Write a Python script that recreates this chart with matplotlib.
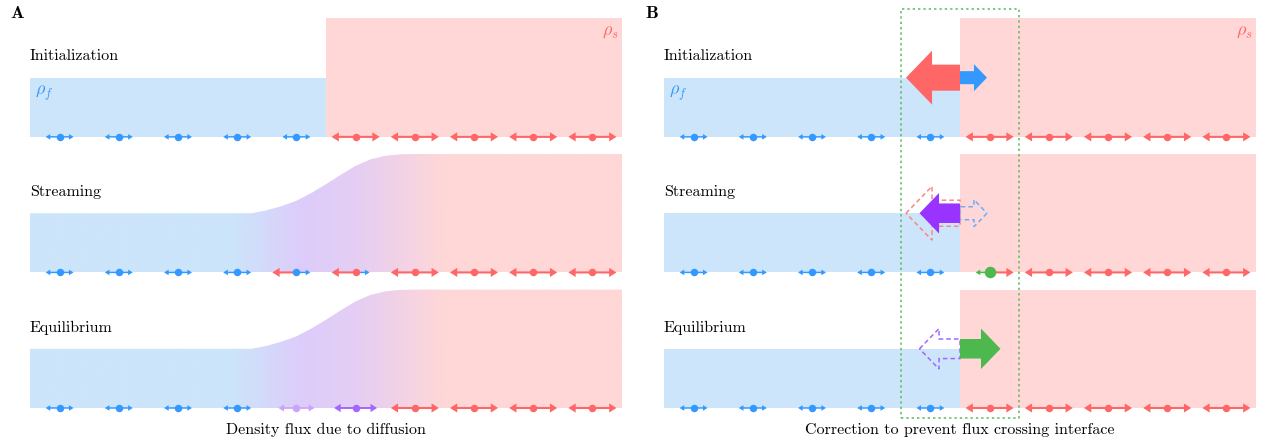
#!/usr/bin/env python3
# -*- coding: utf-8 -*-

import numpy as np
from matplotlib import pyplot as plt
from matplotlib.patches import FancyArrow, Polygon, Rectangle
from matplotlib.colors import LinearSegmentedColormap

plt.rcParams['font.family'] = 'serif'
plt.rcParams['font.serif'] = ['cmr10', 'DejaVu Serif']
plt.rcParams['mathtext.fontset'] = 'cm'
plt.rcParams['axes.formatter.use_mathtext'] = True

# ---- data ----
n_cells = 10
interface = 5
rho_f = 1.0
rho_s = 2.0
row_names = ['Initialization', 'Streaming', 'Equilibrium']

# smoothed density profile after diffusion
x_profile = [0, 3.75, 4.0, 4.25, 4.5, 4.75, 5.0, 5.25, 5.5, 5.75, 6.0, 6.25, 6.5, 10]
rho_profile = [1.0, 1.0, 1.05, 1.12, 1.21, 1.34, 1.49, 1.65, 1.80, 1.91, 1.97, 1.995, 2.0, 2.0]

# population per species (drives node-arrow size)
pop = {'f': 1.0, 's': 2.0, 'm1': 1.4, 'm2': 1.75, 'g': 1.0}

# node states per row: (left arrow, dot, right arrow)
F = ('f', 'f', 'f')
S = ('s', 's', 's')
nodes_A = [
    [F] * 5 + [S] * 5,
    [F] * 4 + [('s', 'f', 'f'), ('s', 's', 'f')] + [S] * 4,
    [F] * 4 + [('m1', 'm1', 'm1'), ('m2', 'm2', 'm2')] + [S] * 4,
]
nodes_B = [
    [F] * 5 + [S] * 5,
    [F] * 5 + [('g', 'g', 's')] + [S] * 4,
    [F] * 5 + [S] * 5,
]

# interface fluxes in panel B: (direction, magnitude, species, filled)
flux_B = [
    [(-1, 2.0, 's', True), (1, 1.0, 'f', True)],
    [(-1, 2.0, 's', False), (1, 1.0, 'f', False), (-1, 1.5, 'p', True)],
    [(-1, 1.5, 'p', False), (1, 1.5, 'g', True)],
]

# ---- style ----
blue_fill = '#CCE5FA'
pink_fill = '#FFD7D7'
colors = {'f': '#3399FF', 's': '#FF6666', 'm1': '#CDA3FA', 'm2': '#A366FF',
          'g': '#4DB84D', 'p': '#9933FF'}
dash_colors = {'s': '#FF8585', 'f': '#66B0FF', 'p': '#A366FF'}
row_base = [4.58, 2.29, 0.0]
grad_cmap = LinearSegmentedColormap.from_list(
    'diff', [(0.0, blue_fill), (0.34, blue_fill), (0.46, '#DDCCFA'),
             (0.55, '#E4CEF4'), (0.70, pink_fill), (1.0, pink_fill)], N=1024)


def node_arrow(ax, x, y, d, sp):
    t = pop[sp] - 1.0
    L = 0.236 + 0.17 * t
    ax.add_patch(FancyArrow(x, y, d * L, 0, width=0.025 + 0.01 * t,
                            head_width=0.095 + 0.06 * t, head_length=0.078 + 0.045 * t,
                            length_includes_head=True, color=colors[sp], lw=0, zorder=4))


def draw_nodes(ax, base, row):
    for i, (left, dot, right) in enumerate(row):
        x = i + 0.5
        node_arrow(ax, x, base, -1, left)
        node_arrow(ax, x, base, 1, right)
        ms = 8.3 if dot == 'g' else 5.4
        ax.plot(x, base, 'o', ms=ms, color=colors[dot], mec='none', zorder=5)


def draw_step(ax, base):
    ax.add_patch(Rectangle((0, base), interface, rho_f, fc=blue_fill, ec='none', zorder=1))
    ax.add_patch(Rectangle((interface, base), n_cells - interface, rho_s,
                           fc=pink_fill, ec='none', zorder=1))


def draw_profile(ax, base):
    verts = [(x, base + r) for x, r in zip(x_profile, rho_profile)]
    verts += [(n_cells, base), (0, base)]
    poly = Polygon(verts, closed=True, fc='none', ec='none')
    ax.add_patch(poly)
    grad = np.linspace(0, 1, 2000)[None, :]
    im = ax.imshow(grad, cmap=grad_cmap, extent=(0, n_cells, base, base + rho_s),
                   aspect='auto', origin='lower', interpolation='bilinear', zorder=1)
    im.set_clip_path(poly)


def big_arrow(ax, y, d, s, sp, filled):
    L = 0.456 * s
    kw = dict(width=0.22 * s, head_width=0.456 * s, head_length=0.22 * s,
              length_includes_head=True, zorder=6)
    if filled:
        arr = FancyArrow(interface, y, d * L, 0, fc=colors[sp], ec='none', lw=0, **kw)
    else:
        arr = FancyArrow(interface, y, d * L, 0, fill=False, ec=dash_colors[sp],
                         lw=1.1, ls=(0, (3, 2)), **kw)
    ax.add_patch(arr)


def setup(ax):
    ax.set_xlim(0, n_cells)
    ax.set_ylim(-0.659, 6.892)
    ax.axis('off')
    for name, base in zip(row_names, row_base):
        ax.text(0, base + 1.29, name, fontsize=11.5, ha='left', va='baseline')
    top = row_base[0]
    ax.text(0.08, top + rho_f - 0.1, r'$\rho_f$', color=colors['f'], fontsize=13,
            ha='left', va='top', zorder=7)
    ax.text(n_cells - 0.05, top + rho_s - 0.1, r'$\rho_s$', color=colors['s'], fontsize=13,
            ha='right', va='top', zorder=7)


def plot_panels():
    fig = plt.figure(figsize=(12.68, 4.47), dpi=100)
    axA = fig.add_axes([30 / 1268, 0, 592 / 1268, 1])
    axB = fig.add_axes([664 / 1268, 0, 592 / 1268, 1])

    # panel A: diffusion across the interface
    for k, base in enumerate(row_base):
        if k == 0:
            draw_step(axA, base)
        else:
            draw_profile(axA, base)
        draw_nodes(axA, base, nodes_A[k])
    setup(axA)
    axA.text(interface, -0.37, 'Density flux due to diffusion', fontsize=11.5,
             ha='center', va='center')

    # panel B: corrected fluxes
    for k, base in enumerate(row_base):
        draw_step(axB, base)
        draw_nodes(axB, base, nodes_B[k])
        for d, s, sp, filled in flux_B[k]:
            big_arrow(axB, base + rho_f, d, s, sp, filled)
    axB.add_patch(Rectangle((interface - 1, -0.17), 2, 6.91, fill=False, ec='#5CB85C',
                            lw=1.1, ls=(0, (1.5, 2)), zorder=8, clip_on=False))
    setup(axB)
    axB.text(interface, -0.37, 'Correction to prevent flux crossing interface',
             fontsize=11.5, ha='center', va='center')

    fig.text(10 / 1268, 1 - 14 / 447, 'A', fontsize=13, family='cmb10', va='center')
    fig.text(645 / 1268, 1 - 14 / 447, 'B', fontsize=13, family='cmb10', va='center')

    fig.savefig('out.png', dpi=100)


def main():
    plot_panels()


if __name__ == "__main__":
    main()
